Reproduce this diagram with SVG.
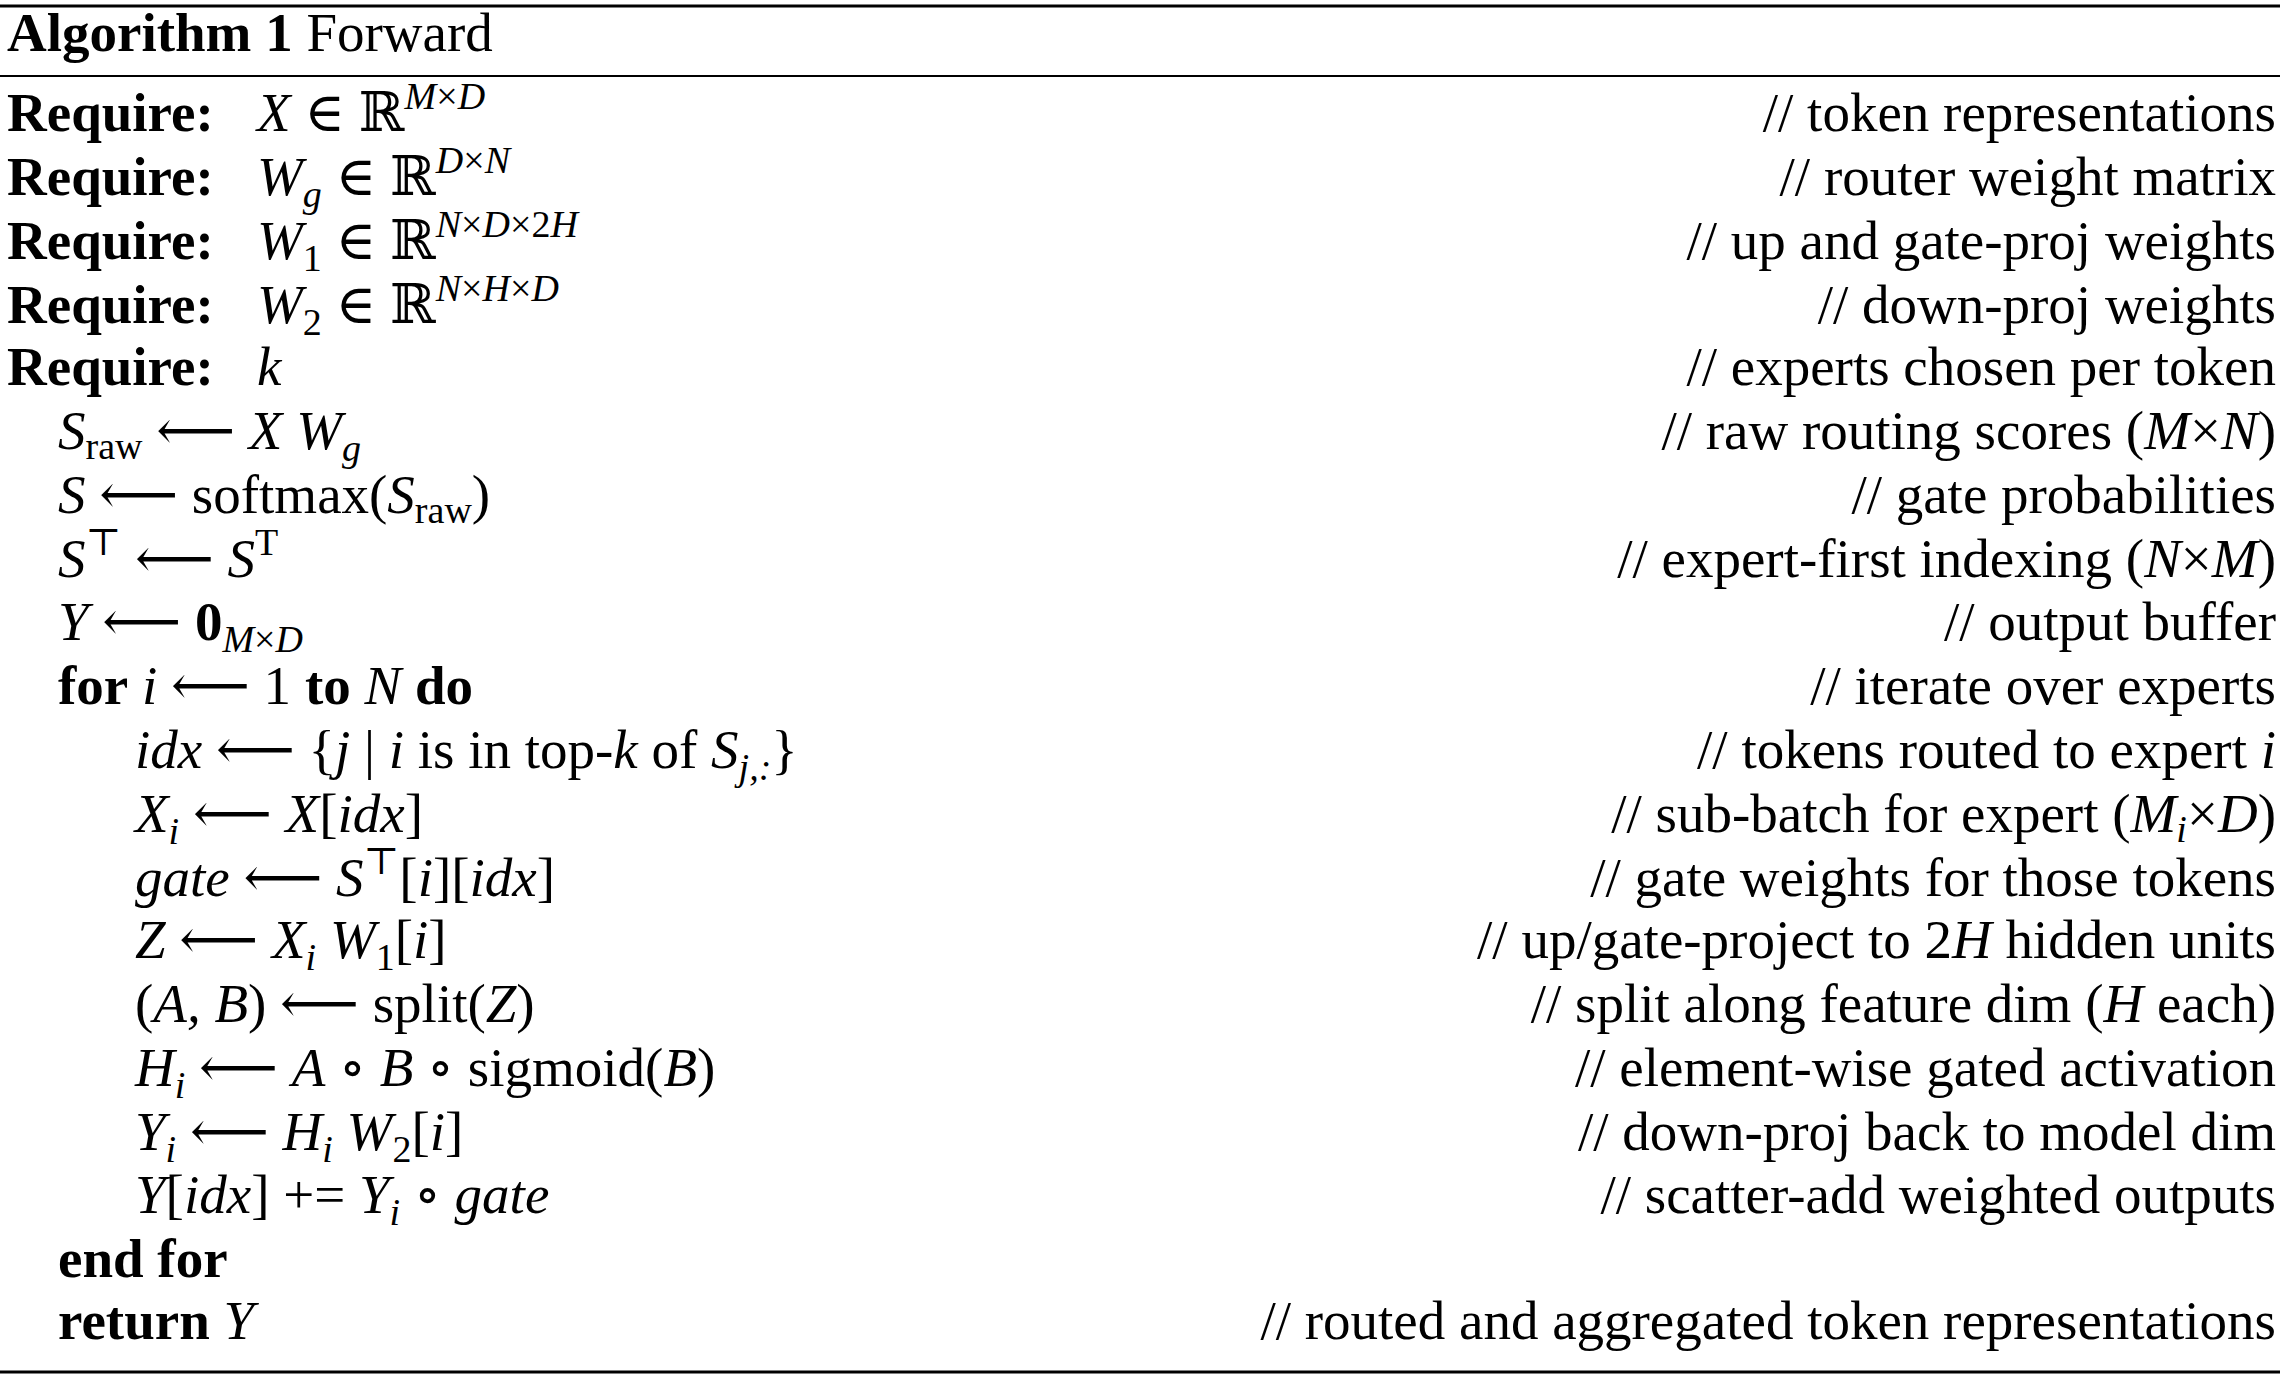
<svg xmlns="http://www.w3.org/2000/svg" width="2280" height="1378" viewBox="0 0 2280 1378">
<style>
text{font-family:"Liberation Serif","DejaVu Serif",serif;font-size:55px;fill:#000}
.b{font-weight:bold}.i{font-style:italic}.s{font-size:38px}
.r{text-anchor:end}
</style>
<rect width="2280" height="1378" fill="#fff"/>
<line x1="0" y1="6" x2="2280" y2="6" stroke="#000" stroke-width="3"/>
<line x1="0" y1="76" x2="2280" y2="76" stroke="#000" stroke-width="2"/>
<line x1="0" y1="1372" x2="2280" y2="1372" stroke="#000" stroke-width="3"/>
<text x="7" y="51"><tspan class="b">Algorithm 1</tspan> Forward</text>

<text x="7" y="131"><tspan class="b">Require:</tspan><tspan x="257" class="i">X</tspan> ∈ ℝ<tspan class="s i" dy="-22">M</tspan><tspan class="s">×</tspan><tspan class="s i">D</tspan></text>
<text x="7" y="195"><tspan class="b">Require:</tspan><tspan x="257" class="i">W</tspan><tspan class="s i" dy="12">g</tspan><tspan dy="-12"> ∈ ℝ</tspan><tspan class="s i" dy="-22">D</tspan><tspan class="s">×</tspan><tspan class="s i">N</tspan></text>
<text x="7" y="259"><tspan class="b">Require:</tspan><tspan x="257" class="i">W</tspan><tspan class="s" dy="12">1</tspan><tspan dy="-12"> ∈ ℝ</tspan><tspan class="s i" dy="-22">N</tspan><tspan class="s">×</tspan><tspan class="s i">D</tspan><tspan class="s">×2</tspan><tspan class="s i">H</tspan></text>
<text x="7" y="323"><tspan class="b">Require:</tspan><tspan x="257" class="i">W</tspan><tspan class="s" dy="12">2</tspan><tspan dy="-12"> ∈ ℝ</tspan><tspan class="s i" dy="-22">N</tspan><tspan class="s">×</tspan><tspan class="s i">H</tspan><tspan class="s">×</tspan><tspan class="s i">D</tspan></text>
<text x="7" y="385"><tspan class="b">Require:</tspan><tspan x="257" class="i">k</tspan></text>

<text x="58" y="449"><tspan class="i">S</tspan><tspan class="s" dy="10">raw</tspan><tspan dy="-10"> ⟵ </tspan><tspan class="i">X W</tspan><tspan class="s i" dy="12">g</tspan></text>
<text x="58" y="513"><tspan class="i">S</tspan> ⟵ softmax(<tspan class="i">S</tspan><tspan class="s" dy="10">raw</tspan><tspan dy="-10">)</tspan></text>
<text x="58" y="577"><tspan class="i">S</tspan><tspan class="s" dy="-22">⊤</tspan><tspan dy="22"> ⟵ </tspan><tspan class="i">S</tspan><tspan class="s" dy="-22">T</tspan></text>
<text x="58" y="640"><tspan class="i">Y</tspan> ⟵ <tspan class="b">0</tspan><tspan class="s i" dy="12">M</tspan><tspan class="s" >×</tspan><tspan class="s i">D</tspan></text>
<text x="58" y="704"><tspan class="b">for</tspan> <tspan class="i">i</tspan> ⟵ 1 <tspan class="b">to</tspan> <tspan class="i">N</tspan> <tspan class="b">do</tspan></text>

<text x="135" y="768"><tspan class="i">idx</tspan> ⟵ {<tspan class="i">j</tspan> | <tspan class="i">i</tspan> is in top-<tspan class="i">k</tspan> of <tspan class="i">S</tspan><tspan class="s i" dy="12">j,:</tspan><tspan dy="-12">}</tspan></text>
<text x="135" y="832"><tspan class="i">X</tspan><tspan class="s i" dy="12">i</tspan><tspan dy="-12"> ⟵ </tspan><tspan class="i">X</tspan>[<tspan class="i">idx</tspan>]</text>
<text x="135" y="896"><tspan class="i">gate</tspan> ⟵ <tspan class="i">S</tspan><tspan class="s" dy="-22">⊤</tspan><tspan dy="22">[</tspan><tspan class="i">i</tspan>][<tspan class="i">idx</tspan>]</text>
<text x="135" y="958"><tspan class="i">Z</tspan> ⟵ <tspan class="i">X</tspan><tspan class="s i" dy="12">i</tspan><tspan dy="-12" class="i"> W</tspan><tspan class="s" dy="12">1</tspan><tspan dy="-12">[</tspan><tspan class="i">i</tspan>]</text>
<text x="135" y="1022">(<tspan class="i">A, B</tspan>) ⟵ split(<tspan class="i">Z</tspan>)</text>
<text x="135" y="1086"><tspan class="i">H</tspan><tspan class="s i" dy="12">i</tspan><tspan dy="-12"> ⟵ </tspan><tspan class="i">A</tspan> ∘ <tspan class="i">B</tspan> ∘ sigmoid(<tspan class="i">B</tspan>)</text>
<text x="135" y="1150"><tspan class="i">Y</tspan><tspan class="s i" dy="12">i</tspan><tspan dy="-12"> ⟵ </tspan><tspan class="i">H</tspan><tspan class="s i" dy="12">i</tspan><tspan dy="-12" class="i"> W</tspan><tspan class="s" dy="12">2</tspan><tspan dy="-12">[</tspan><tspan class="i">i</tspan>]</text>
<text x="135" y="1213"><tspan class="i">Y</tspan>[<tspan class="i">idx</tspan>] += <tspan class="i">Y</tspan><tspan class="s i" dy="12">i</tspan><tspan dy="-12"> ∘ </tspan><tspan class="i">gate</tspan></text>
<text x="58" y="1277" class="b">end for</text>
<text x="58" y="1339"><tspan class="b">return</tspan> <tspan class="i">Y</tspan></text>

<g>
<text class="r" x="2276" y="131">// token representations</text>
<text class="r" x="2276" y="195">// router weight matrix</text>
<text class="r" x="2276" y="259">// up and gate-proj weights</text>
<text class="r" x="2276" y="323">// down-proj weights</text>
<text class="r" x="2276" y="385">// experts chosen per token</text>
<text class="r" x="2276" y="449">// raw routing scores (<tspan class="i">M</tspan>×<tspan class="i">N</tspan>)</text>
<text class="r" x="2276" y="513">// gate probabilities</text>
<text class="r" x="2276" y="577">// expert-first indexing (<tspan class="i">N</tspan>×<tspan class="i">M</tspan>)</text>
<text class="r" x="2276" y="640">// output buffer</text>
<text class="r" x="2276" y="704">// iterate over experts</text>
<text class="r" x="2276" y="768">// tokens routed to expert <tspan class="i">i</tspan></text>
<text class="r" x="2276" y="832">// sub-batch for expert (<tspan class="i">M</tspan><tspan class="s i" dy="10">i</tspan><tspan dy="-10">×</tspan><tspan class="i">D</tspan>)</text>
<text class="r" x="2276" y="896">// gate weights for those tokens</text>
<text class="r" x="2276" y="958">// up/gate-project to 2<tspan class="i">H</tspan> hidden units</text>
<text class="r" x="2276" y="1022">// split along feature dim (<tspan class="i">H</tspan> each)</text>
<text class="r" x="2276" y="1086">// element-wise gated activation</text>
<text class="r" x="2276" y="1150">// down-proj back to model dim</text>
<text class="r" x="2276" y="1213">// scatter-add weighted outputs</text>
<text class="r" x="2276" y="1339">// routed and aggregated token representations</text>
</g>
</svg>
